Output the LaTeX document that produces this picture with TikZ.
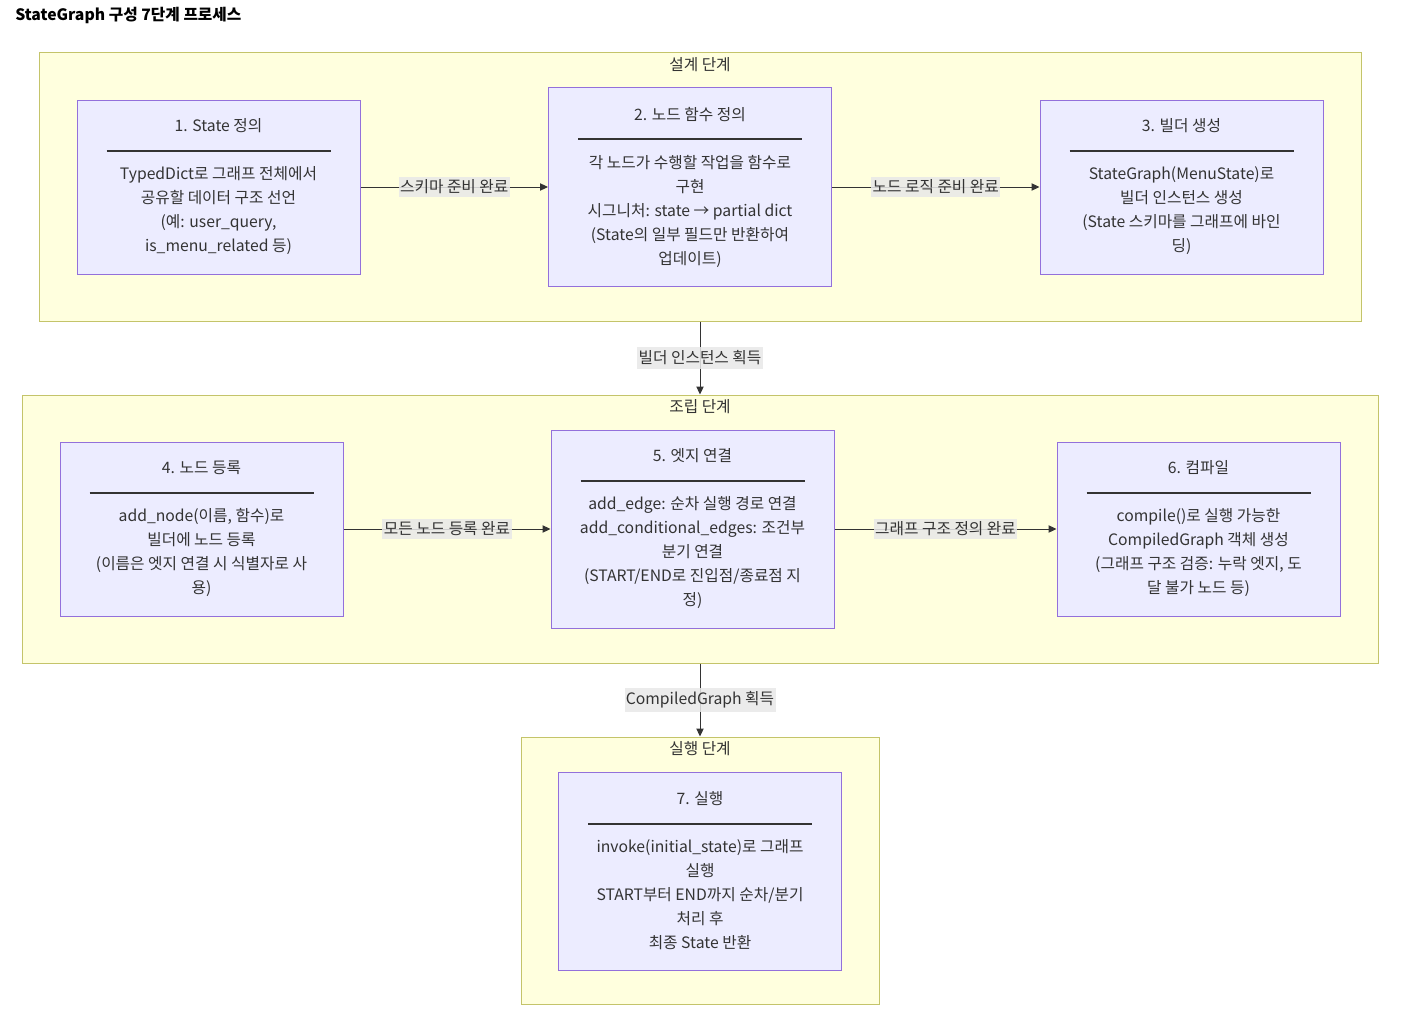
\documentclass[tikz,border=0pt]{standalone}
\usepackage{fontspec}
\setmainfont{Noto Sans CJK KR}
\usepackage{tikz}
\usetikzlibrary{positioning, arrows.meta}

\definecolor{clusterfill}{HTML}{FFFFDE}
\definecolor{clusterline}{HTML}{C4C46A}
\definecolor{boxfill}{HTML}{ECECFF}
\definecolor{boxline}{HTML}{9370DB}
\definecolor{textcol}{HTML}{333333}
\definecolor{labelbg}{HTML}{E8E8E8}
\newcommand{\sepline}{\rule[0.5ex]{168pt}{1.2pt}}

\begin{document}
\begin{tikzpicture}[x=0.75pt, y=-0.75pt,
  txt/.style={font=\fontsize{11.8}{18}\selectfont, text=textcol},
  cluster/.style={draw=clusterline, fill=clusterfill, line width=0.75pt},
  clabel/.style={txt, inner sep=3.5pt, anchor=north},
  stepbox/.style={txt, draw=boxline, fill=boxfill, line width=0.75pt, align=center,
    minimum width=212.25pt, minimum height=130.5pt, inner sep=0pt},
  tallbox/.style={stepbox, minimum height=148.5pt},
  elabel/.style={txt, fill=labelbg, fill opacity=0.85, text opacity=1, inner xsep=1pt, inner ysep=2.5pt},
  flow/.style={draw=textcol, line width=0.75pt, -{Triangle[length=6pt,width=5.5pt]}}
]
\useasboundingbox (0,0) rectangle (1402,1024);

\node[anchor=west, inner sep=0pt, font=\fontsize{11.8}{14}\selectfont\bfseries] (title) at (15,15) {StateGraph 구성 7단계 프로세스};

% phases
\node[cluster, minimum width=991.5pt, minimum height=201pt] (design) at (700,187) {};
\node[clabel] (designlbl) at (design.north) {설계 단계};
\node[cluster, minimum width=1017pt, minimum height=201pt] (build) at (700,529) {};
\node[clabel] (buildlbl) at (build.north) {조립 단계};
\node[cluster, minimum width=268.5pt, minimum height=200.25pt] (run) at (700,870.5) {};
\node[clabel] (runlbl) at (run.north) {실행 단계};

% steps
\node[stepbox] (S1) at (218.5,187) {1. State 정의\\ \sepline\\ TypedDict로 그래프 전체에서\\ 공유할 데이터 구조 선언\\ (예: user\_query,\\ is\_menu\_related 등)};
\node[tallbox] (S2) at (690,187) {2. 노드 함수 정의\\ \sepline\\ 각 노드가 수행할 작업을 함수로\\ 구현\\ 시그니처: state → partial dict\\ (State의 일부 필드만 반환하여\\ 업데이트)};
\node[stepbox] (S3) at (1181.5,187) {3. 빌더 생성\\ \sepline\\ StateGraph(MenuState)로\\ 빌더 인스턴스 생성\\ (State 스키마를 그래프에 바인\\ 딩)};
\node[stepbox] (S4) at (201.5,529) {4. 노드 등록\\ \sepline\\ add\_node(이름, 함수)로\\ 빌더에 노드 등록\\ (이름은 엣지 연결 시 식별자로 사\\ 용)};
\node[tallbox] (S5) at (692.5,529) {5. 엣지 연결\\ \sepline\\ add\_edge: 순차 실행 경로 연결\\ add\_conditional\_edges: 조건부\\ 분기 연결\\ (START/END로 진입점/종료점 지\\ 정)};
\node[stepbox] (S6) at (1198.5,529) {6. 컴파일\\ \sepline\\ compile()로 실행 가능한\\ CompiledGraph 객체 생성\\ (그래프 구조 검증: 누락 엣지, 도\\ 달 불가 노드 등)};
\node[tallbox] (S7) at (700,871) {7. 실행\\ \sepline\\ invoke(initial\_state)로 그래프\\ 실행\\ START부터 END까지 순차/분기\\ 처리 후\\ 최종 State 반환};

\draw
  (S1) edge[flow] node[elabel]{스키마 준비 완료} (S2)
  (S2) edge[flow] node[elabel]{노드 로직 준비 완료} (S3)
  (design.south) edge[flow] node[elabel]{빌더 인스턴스 획득} (build.north)
  (S4) edge[flow] node[elabel]{모든 노드 등록 완료} (S5)
  (S5) edge[flow] node[elabel]{그래프 구조 정의 완료} (S6)
  (build.south) edge[flow] node[elabel]{CompiledGraph 획득} (run.north)
;
\end{tikzpicture}
\end{document}
